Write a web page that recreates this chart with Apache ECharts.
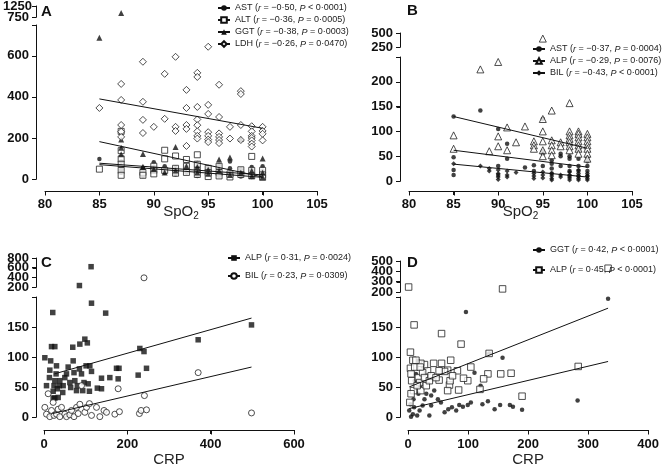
<!DOCTYPE html>
<html><head><meta charset="utf-8">
<script src="https://cdn.jsdelivr.net/npm/echarts@6/dist/echarts.min.js"></script>
<style>html,body{margin:0;padding:0;background:#fff}#wrap{position:relative;width:662px;height:468px}.c{position:absolute;left:0;top:0;width:662px;height:468px}</style>
</head><body><div id="wrap"></div>
<script>
// ---------- Panel A : liver enzymes vs SpO2 ----------
const A_AST = [[85,98],[87,85],[87,62],[87,45],[87,30],[89,55],[89,42],[89,28],[89,15],[90,82],[90,58],[90,38],[91,62],[91,48],[91,30],[92,55],[92,38],[92,22],[93,62],[93,32],[94,78],[94,58],[94,42],[94,28],[94,15],[95,58],[95,42],[95,22],[96,68],[96,48],[96,32],[96,15],[97,85],[97,52],[97,28],[98,48],[98,28],[98,12],[99,58],[99,42],[99,22],[99,10],[100,62],[100,38],[100,15]];
const A_ALT = [[85,48],[87,232],[87,138],[87,98],[87,72],[87,42],[87,18],[89,32],[89,18],[90,62],[90,42],[90,25],[91,140],[91,98],[91,42],[92,112],[92,52],[92,28],[93,95],[93,62],[93,32],[94,118],[94,72],[94,42],[94,22],[95,52],[95,32],[95,12],[96,62],[96,32],[96,15],[97,25],[97,10],[98,45],[98,22],[99,110],[99,42],[99,15],[100,42],[100,20],[100,8]];
const A_GGT = [[85,688],[87,930],[87,192],[87,152],[87,120],[89,122],[89,60],[90,48],[91,32],[92,156],[92,42],[93,62],[94,58],[94,32],[95,45],[95,25],[96,95],[96,40],[97,105],[97,20],[98,195],[98,30],[99,40],[99,15],[100,100],[100,30],[100,10]];
const A_LDH = [[85,346],[87,463],[87,385],[87,263],[87,230],[87,205],[89,571],[89,376],[89,288],[89,224],[90,254],[91,512],[91,293],[92,595],[92,254],[92,234],[93,434],[93,346],[93,263],[93,244],[93,161],[94,517],[94,497],[94,351],[94,290],[94,262],[94,232],[94,210],[94,197],[95,644],[95,361],[95,317],[95,228],[95,210],[95,192],[95,180],[96,459],[96,302],[96,222],[96,205],[96,190],[96,175],[97,254],[97,197],[98,428],[98,414],[98,263],[98,190],[99,257],[99,232],[99,210],[99,200],[99,188],[99,172],[99,158],[100,254],[100,234],[100,220],[100,188]];
const A_FIT_AST = [[85,77],[100,20]];
const A_FIT_ALT = [[85,70],[100,8]];
const A_FIT_GGT = [[85,182],[100,10]];
const A_FIT_LDH = [[85,390],[100,247]];
const A_LABELS = ['AST ({i|r} = \u22120\u00b750, {i|P} < 0\u00b70001)','ALT ({i|r} = \u22120\u00b736, {i|P} = 0\u00b70005)','GGT ({i|r} = \u22120\u00b738, {i|P} = 0\u00b70003)','LDH ({i|r} = \u22120\u00b726, {i|P} = 0\u00b70470)'];

// ---------- Panel B ----------
const B_AST = [[85,130],[85,48],[85,22],[85,12],[88,142],[90,105],[90,30],[90,12],[91,75],[91,45],[93,27],[94,32],[94,20],[95,125],[95,60],[95,55],[95,30],[96,42],[96,35],[96,25],[96,15],[97,55],[97,50],[97,30],[98,50],[98,45],[98,30],[98,20],[98,10],[99,62],[99,45],[99,30],[99,20],[99,10],[100,48],[100,40],[100,30],[100,20],[100,10]];
const B_ALP = [[85,92],[85,65],[88,225],[89,60],[90,240],[90,90],[90,70],[91,108],[91,62],[92,78],[93,110],[94,80],[94,72],[94,65],[95,400],[95,125],[95,100],[95,80],[95,62],[95,50],[96,142],[96,82],[96,72],[96,62],[96,52],[97,78],[97,70],[98,157],[98,100],[98,92],[98,85],[98,78],[98,70],[98,62],[99,100],[99,95],[99,88],[99,80],[99,72],[99,65],[99,55],[100,95],[100,88],[100,80],[100,72],[100,65],[100,55],[100,45]];
const B_BIL = [[85,35],[88,30],[89,25],[89,20],[90,22],[90,15],[90,8],[90,3],[91,20],[91,12],[91,8],[92,17],[94,15],[94,10],[94,5],[95,18],[95,12],[95,6],[96,15],[96,10],[96,5],[96,2],[97,12],[97,8],[98,18],[98,12],[98,6],[98,2],[99,22],[99,15],[99,10],[99,5],[99,2],[100,15],[100,10],[100,5],[100,2]];
const B_FIT_AST = [[85,62],[100,28]];
const B_FIT_ALP = [[85,130],[100,66]];
const B_FIT_BIL = [[85,34],[100,8]];
const B_LABELS = ['AST ({i|r} = \u22120\u00b737, {i|P} = 0\u00b70004)','ALP ({i|r} = \u22120\u00b729, {i|P} = 0\u00b70076)','BIL ({i|r} = \u22120\u00b743, {i|P} < 0\u00b70001)'];

// ---------- Panel C : vs CRP ----------
const C_ALP = [[113,620],[85,230],[2,102],[6,57],[13,70],[14,82],[16,97],[18,120],[26,120],[21,175],[22,48],[24,57],[26,65],[29,76],[30,89],[32,52],[34,38],[37,57],[38,65],[45,46],[46,57],[50,70],[54,76],[58,87],[62,62],[64,54],[69,119],[70,97],[72,78],[74,65],[78,49],[80,57],[85,84],[86,124],[90,76],[93,49],[96,62],[98,132],[101,89],[104,126],[106,60],[109,48],[110,89],[114,80],[114,190],[128,53],[138,69],[138,52],[148,174],[158,70],[174,85],[180,85],[178,68],[226,74],[230,117],[240,112],[246,85],[370,131],[498,155],[22,37],[26,37]];
const C_BIL = [[240,390],[2,22],[10,44],[6,11],[14,7],[18,17],[22,30],[24,9],[30,11],[34,19],[38,7],[42,22],[50,11],[54,7],[62,10],[66,17],[72,7],[78,22],[82,12],[86,27],[90,57],[98,14],[102,22],[109,28],[114,9],[126,22],[134,7],[144,17],[150,14],[170,11],[178,52],[181,15],[229,12],[233,17],[241,41],[246,18],[370,78],[498,13]];
const C_FIT_ALP = [[25,76],[498,166]];
const C_FIT_BIL = [[20,12],[498,87]];
const C_LABELS = ['ALP ({i|r} = 0\u00b731, {i|P} = 0\u00b70024)','BIL ({i|r} = 0\u00b723, {i|P} = 0\u00b70309)'];

// ---------- Panel D ----------
const D_GGT = [[328,197],[95,176],[155,102],[133,109],[278,33],[187,18],[172,23],[167,26],[151,26],[142,19],[131,32],[122,27],[109,78],[119,57],[103,30],[98,26],[90,23],[84,26],[79,17],[72,22],[66,19],[60,14],[54,30],[49,35],[38,25],[35,9],[27,35],[24,25],[19,17],[15,9],[10,22],[8,11],[5,7],[2,17],[4,27],[9,35],[17,44],[20,57],[13,76],[16,97],[11,65],[30,44],[38,41],[43,49]];
const D_ALP = [[1,248],[155,230],[328,430],[10,155],[55,141],[87,124],[133,109],[279,88],[187,40],[169,77],[152,76],[131,76],[124,68],[118,51],[103,87],[98,65],[91,69],[83,50],[70,98],[65,82],[68,58],[55,93],[51,66],[60,80],[32,81],[42,93],[27,91],[21,93],[4,111],[8,98],[13,98],[4,85],[5,76],[6,65],[9,49],[11,87],[17,70],[19,62],[21,49],[24,78],[27,70],[30,57],[35,65],[38,73],[46,70],[51,81],[20,87],[15,57],[3,30],[5,44],[65,49],[69,65],[81,81],[73,73]];
const D_FIT_GGT = [[2,20],[328,96]];
const D_FIT_ALP = [[2,55],[328,182]];
const D_LABELS = ['GGT ({i|r} = 0\u00b742, {i|P} < 0\u00b70001)','ALP ({i|r} = 0\u00b745, {i|P} < 0\u00b70001)'];

// ---------- tick labels ----------
const A_Y_MAIN = [0,200,400,600], A_Y_UP = [750,1250];
const B_Y_MAIN = [0,50,100,150,200], B_Y_UP = [250,500];
const C_Y_MAIN = [0,50,100,150], C_Y_UP = [200,400,600,800];
const D_Y_MAIN = [0,50,100,150], D_Y_UP = [200,300,400,500];

const FONT = 'Liberation Sans';
const BLK = '#111';
const panels = [
 {letter:'A', lx:41, ly:4, main:{left:45,width:272,top:25,height:154,max:750,ticks:A_Y_MAIN}, up:{top:6,height:11,min:750,max:1250,ticks:A_Y_UP}, yOff:9,
  x:{min:80,max:105,interval:5,off:12,margin:7,name:'SpO{s|2}',gap:11},
  series:[
   {name:'A1',data:A_AST,fit:A_FIT_AST,sym:'circle',leg:'circle',size:4.5,fill:BLK},
   {name:'A2',data:A_ALT,fit:A_FIT_ALT,sym:'rect',leg:'emptyRect',size:6,fill:'#fff'},
   {name:'A3',data:A_GGT,fit:A_FIT_GGT,sym:'triangle',leg:'triangle',size:6,fill:BLK},
   {name:'A4',data:A_LDH,fit:A_FIT_LDH,sym:'diamond',leg:'emptyDiamond',size:7,fill:'#fff'}],
  labels:A_LABELS, legend:{left:212,top:-3,gap:0}},
 {letter:'B', lx:407, ly:3, main:{left:409,width:223,top:57,height:124,max:250,ticks:B_Y_MAIN}, up:{top:33,height:14,min:250,max:500,ticks:B_Y_UP}, yOff:9,
  x:{min:80,max:105,interval:5,off:10,margin:7,name:'SpO{s|2}',gap:11},
  series:[
   {name:'B1',data:B_AST,fit:B_FIT_AST,sym:'circle',leg:'circle',size:4.5,fill:BLK},
   {name:'B2',data:B_ALP,fit:B_FIT_ALP,sym:'triangle',leg:'emptyTriangle',size:7,fill:'#fff'},
   {name:'B3',data:B_BIL,fit:B_FIT_BIL,sym:'diamond',leg:'diamond',size:5,fill:BLK}],
  labels:B_LABELS, legend:{left:527,top:38,gap:0}},
 {letter:'C', lx:41, ly:255, main:{left:44,width:250,top:297,height:124,max:200,ticks:C_Y_MAIN}, up:{top:258,height:29,min:200,max:800,ticks:C_Y_UP}, yOff:8,
  x:{min:0,max:600,interval:200,off:13,margin:8,name:'CRP',gap:22},
  series:[
   {name:'C1',data:C_ALP,fit:C_FIT_ALP,sym:'rect',leg:'rect',size:5.5,fill:BLK},
   {name:'C2',data:C_BIL,fit:C_FIT_BIL,sym:'circle',leg:'emptyCircle',size:6,fill:'#fff'}],
  labels:C_LABELS, legend:{left:222,top:247,gap:6}},
 {letter:'D', lx:407, ly:255, main:{left:408,width:244,top:297,height:124,max:200,ticks:D_Y_MAIN}, up:{top:261,height:31,min:200,max:500,ticks:D_Y_UP}, yOff:8,
  x:{min:0,max:400,interval:100,off:13,margin:8,name:'CRP',gap:22},
  series:[
   {name:'D1',data:D_GGT,fit:D_FIT_GGT,sym:'circle',leg:'circle',size:4.5,fill:BLK},
   {name:'D2',data:D_ALP,fit:D_FIT_ALP,sym:'rect',leg:'emptyRect',size:6.5,fill:'#fff'}],
  labels:D_LABELS, legend:{left:527,top:239,gap:8}}
];

const labStyle = {color:BLK, fontFamily:FONT, fontWeight:'bold', fontSize:13};
function axLine(){ return {show:true, onZero:false, lineStyle:{color:BLK,width:1}}; }
function axTick(vals){ return {show:true, length:4, lineStyle:{color:BLK}, customValues:vals}; }
const wrap = document.getElementById('wrap');
function newChart(){ const d=document.createElement('div'); d.className='c'; wrap.appendChild(d); return echarts.init(d); }
function seg(x1,y1,x2,y2){ return {type:'line', silent:true, shape:{x1,y1,x2,y2}, style:{stroke:BLK, lineWidth:1}}; }
const crisp = v => Math.round(v) + 0.5;

panels.forEach(p => {
  // ---- layer 1: axes (lines, ticks, labels, names) ----
  {
    const grid=[], xAxis=[], yAxis=[];
    grid.push({left:p.main.left, width:p.main.width, top:p.main.top, height:p.main.height});
    grid.push({left:p.main.left, width:p.main.width, top:p.up.top, height:p.up.height});
    xAxis.push({type:'value', gridIndex:0, min:p.x.min, max:p.x.max, interval:p.x.interval, offset:p.x.off,
      axisLine:axLine(), axisTick:{show:true,length:4,lineStyle:{color:BLK}},
      axisLabel:Object.assign({margin:p.x.margin}, labStyle), splitLine:{show:false},
      name:p.x.name, nameLocation:'middle', nameGap:p.x.gap, nameMoveOverlap:false,
      nameTextStyle:{color:'#222', fontFamily:FONT, fontSize:15, rich:{s:{fontSize:10, fontFamily:FONT, color:'#222', padding:[9,0,0,0]}}}});
    xAxis.push({type:'value', gridIndex:1, min:p.x.min, max:p.x.max, show:false});
    yAxis.push({type:'value', gridIndex:0, min:0, max:p.main.max, interval:p.main.ticks[1], offset:p.yOff,
      axisLine:axLine(), axisTick:axTick(p.main.ticks.concat([p.main.max])),
      axisLabel:Object.assign({margin:7, customValues:p.main.ticks, formatter:v=>String(v)}, labStyle), splitLine:{show:false}});
    yAxis.push({type:'value', gridIndex:1, min:p.up.min, max:p.up.max, offset:p.yOff,
      axisLine:axLine(), axisTick:axTick(p.up.ticks), axisLabel:{show:false}, splitLine:{show:false}});
    p.up.ticks.forEach(v => {
      const g = grid.length;
      grid.push({left:p.main.left, width:p.main.width, top:p.up.top, height:p.up.height});
      xAxis.push({type:'value', gridIndex:g, min:p.x.min, max:p.x.max, show:false});
      yAxis.push({type:'value', gridIndex:g, min:p.up.min, max:p.up.max, offset:p.yOff,
        axisLine:{show:false}, axisTick:{show:false}, splitLine:{show:false},
        axisLabel:Object.assign({margin:7, customValues:[v], formatter:x=>String(x), showMinLabel:true, showMaxLabel:true}, labStyle)});
    });
    const ch = newChart();
    ch.setOption({animation:false, grid, xAxis, yAxis, series:[]});
    // axis lines and ticks, placed through the axes' own value->pixel conversion
    const g = [];
    const yx = crisp(p.main.left - p.yOff);
    const yPart = (idx, lo, hi, ticks) => {
      g.push(seg(yx, ch.convertToPixel({yAxisIndex:idx}, hi), yx, ch.convertToPixel({yAxisIndex:idx}, lo)));
      ticks.forEach(t => { const y = crisp(ch.convertToPixel({yAxisIndex:idx}, t)); g.push(seg(yx-4, y, yx, y)); });
    };
    yPart(0, 0, p.main.max, p.main.ticks.concat([p.main.max]));
    yPart(1, p.up.min, p.up.max, p.up.ticks);
    const xy = crisp(ch.convertToPixel({yAxisIndex:0}, 0) + p.x.off);
    g.push(seg(ch.convertToPixel({xAxisIndex:0}, p.x.min), xy, ch.convertToPixel({xAxisIndex:0}, p.x.max), xy));
    for (let v = p.x.min; v <= p.x.max; v += p.x.interval) {
      const x = crisp(ch.convertToPixel({xAxisIndex:0}, v)); g.push(seg(x, xy, x, xy+4));
    }
    ch.setOption({graphic:[{type:'group', silent:true, children:g}]});
  }
  // ---- layer 2: data marks, fits, legend, panel letter (same grids and scales) ----
  {
    const grid=[
      {left:p.main.left, width:p.main.width, top:p.main.top, height:p.main.height},
      {left:p.main.left, width:p.main.width, top:p.up.top, height:p.up.height}];
    const xAxis=[0,1].map(g=>({type:'value', gridIndex:g, min:p.x.min, max:p.x.max, show:false}));
    const yAxis=[{type:'value', gridIndex:0, min:0, max:p.main.max, show:false},
                 {type:'value', gridIndex:1, min:p.up.min, max:p.up.max, show:false}];
    const series=[];
    p.series.forEach(s => {
      const style = {color:s.fill, borderColor:'#222', borderWidth:s.fill==='#fff'?1:0};
      series.push({type:'line', name:s.name, xAxisIndex:0, yAxisIndex:0, data:s.fit, symbol:s.leg, symbolSize:6, showSymbol:false,
        lineStyle:{color:BLK,width:1}, itemStyle:{color:BLK}, z:5, silent:true});
      series.push({type:'scatter', xAxisIndex:0, yAxisIndex:0, data:s.data.filter(d=>d[1]<=p.main.max), symbol:s.sym, symbolSize:s.size, itemStyle:style, z:3});
      series.push({type:'scatter', xAxisIndex:1, yAxisIndex:1, data:s.data.filter(d=>d[1]>p.main.max), symbol:s.sym, symbolSize:s.size, itemStyle:style, z:3});
    });
    const map = {}; p.series.forEach((s,i)=>map[s.name]=p.labels[i]);
    const legend = {orient:'vertical', left:p.legend.left, top:p.legend.top, itemGap:p.legend.gap, itemWidth:12, itemHeight:7,
      selectedMode:false, data:p.series.map(s=>s.name), formatter:n=>map[n],
      textStyle:{fontFamily:FONT, fontSize:9, color:'#222', lineHeight:12, rich:{i:{fontStyle:'italic', fontFamily:FONT, fontSize:9, color:'#222'}}}};
    const graphic = [{type:'text', left:p.lx, top:p.ly, style:{text:p.letter, font:'bold 15px "Liberation Sans"', fill:BLK}}];
    newChart().setOption({animation:false, grid, xAxis, yAxis, series, legend, graphic});
  }
});
</script></body></html>
